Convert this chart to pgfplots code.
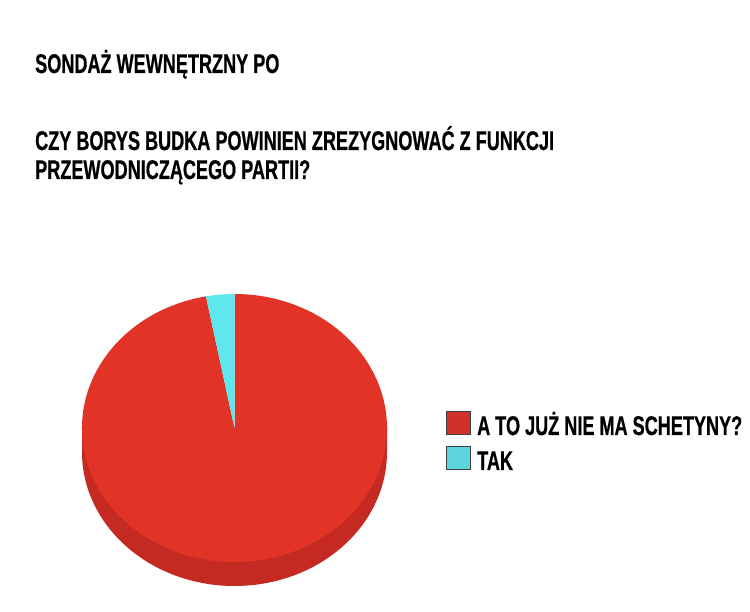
\documentclass[border=0pt]{standalone}
\usepackage{fontspec}
\setmainfont{Liberation Sans}[FakeStretch=0.67, BoldFeatures={FakeBold=0.6}]
\usepackage{pgfplots}
\usepackage{pgfplotstable}
\pgfplotsset{compat=1.18}

\definecolor{pieRed}{HTML}{E13427}
\definecolor{pieSide}{HTML}{C42A21}
\definecolor{pieCyan}{HTML}{5EE8EE}
\definecolor{keyRed}{HTML}{D0312A}
\definecolor{keyCyan}{HTML}{5DD5DF}

% shares of the two answers, in percent
\pgfplotstableread{
answer share
schetyna 97
tak 3
}\sharetable

\begin{document}
\begin{tikzpicture}
\useasboundingbox (0,0) rectangle (750pt,612pt);
\pgfplotstablegetelem{1}{share}\of\sharetable
\pgfmathsetmacro{\cutangle}{90+3.6*\pgfplotsretval}
\begin{axis}[
    at={(0pt,0pt)}, anchor=south west,
    scale only axis,
    width=750pt, height=612pt,
    xmin=0, xmax=750, ymin=0, ymax=612,
    hide axis, clip=false,
]
% side of the disc
\fill[pieSide] (axis cs:82,184) -- (axis cs:82,160)
    arc[start angle=180, end angle=360, x radius=152.5pt, y radius=134pt]
    -- (axis cs:387,184) -- cycle;
% top face
\fill[pieRed] (axis cs:234.5,184) -- ++(\cutangle:152.5pt and 134pt)
    arc[start angle=\cutangle, end angle=450, x radius=152.5pt, y radius=134pt] -- cycle;
\fill[pieCyan] (axis cs:234.5,184) -- ++(90:152.5pt and 134pt)
    arc[start angle=90, end angle=\cutangle, x radius=152.5pt, y radius=134pt] -- cycle;

% titles
\node[anchor=base west, inner sep=0pt, font=\bfseries\fontsize{27}{30}\selectfont]
    at (axis cs:35,539) {SONDAŻ WEWNĘTRZNY PO};
\node[anchor=base west, inner sep=0pt, font=\bfseries\fontsize{27}{30}\selectfont]
    at (axis cs:35,462) {CZY BORYS BUDKA POWINIEN ZREZYGNOWAĆ Z FUNKCJI};
\node[anchor=base west, inner sep=0pt, font=\bfseries\fontsize{27}{30}\selectfont]
    at (axis cs:35,433) {PRZEWODNICZĄCEGO PARTII?};

% legend
\filldraw[fill=keyRed, draw=black!75, line width=1pt] (axis cs:446,177) rectangle (axis cs:470,200);
\filldraw[fill=keyCyan, draw=black!75, line width=1pt] (axis cs:446,142) rectangle (axis cs:470,165);
\node[anchor=base west, inner sep=0pt, font=\bfseries\fontsize{27}{30}\selectfont]
    at (axis cs:477,177) {A TO JUŻ NIE MA SCHETYNY?};
\node[anchor=base west, inner sep=0pt, font=\bfseries\fontsize{27}{30}\selectfont]
    at (axis cs:477,142) {TAK};
\end{axis}
\end{tikzpicture}
\end{document}
